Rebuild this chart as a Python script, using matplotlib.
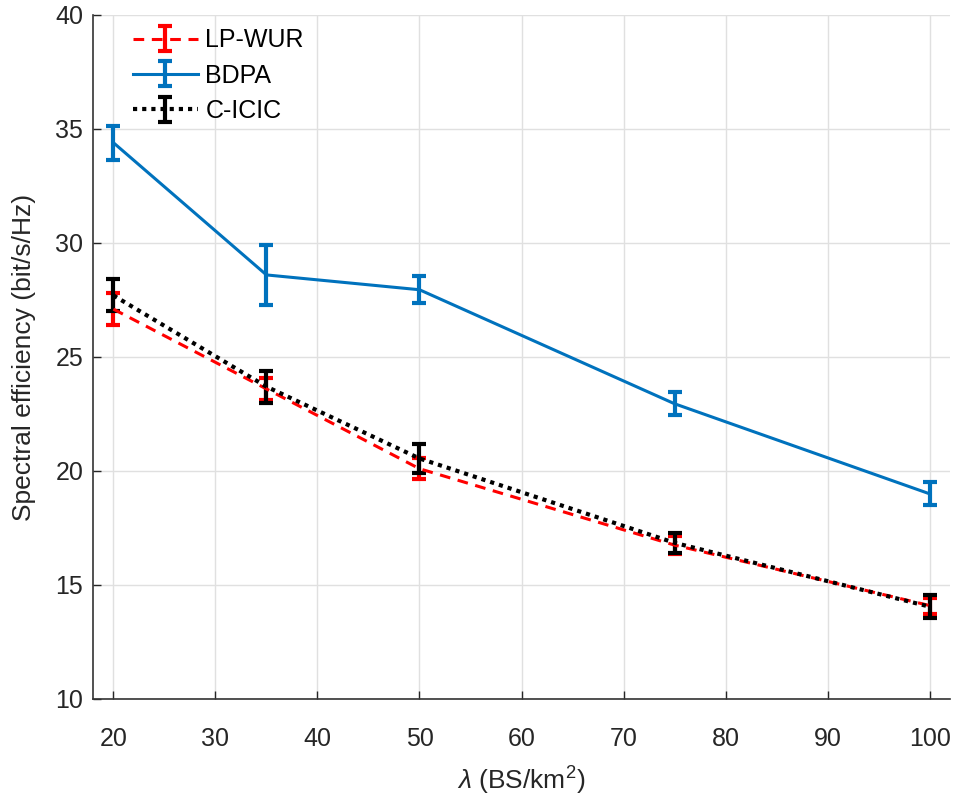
import numpy as np
import matplotlib
matplotlib.use('Agg')
import matplotlib.pyplot as plt

plt.rcParams['font.family'] = ['Liberation Sans', 'DejaVu Sans']
plt.rcParams['mathtext.fontset'] = 'custom'
plt.rcParams['mathtext.rm'] = 'Liberation Sans'
plt.rcParams['mathtext.it'] = 'Liberation Sans:italic'

# Data.
lam = [20, 35, 50, 75, 100]

lpwur = [27.1, 23.6, 20.1, 16.75, 14.1]
lpwur_err = [0.7, 0.5, 0.45, 0.4, 0.35]

bdpa = [34.4, 28.6, 27.95, 22.95, 19.0]
bdpa_err = [0.75, 1.3, 0.6, 0.5, 0.5]

cicic = [27.7, 23.7, 20.55, 16.85, 14.05]
cicic_err = [0.7, 0.7, 0.65, 0.45, 0.5]

fig = plt.figure(figsize=(9.57, 8.01), dpi=100)
ax = fig.add_axes([93/957, 1 - 699/801, (950 - 93)/957, (699 - 15)/801])

ax.errorbar(lam, lpwur, yerr=lpwur_err, color='r', ls='--', lw=2.2,
            capsize=5, capthick=3, elinewidth=3, dashes=(3.5, 2.5), label='LP-WUR')
ax.errorbar(lam, bdpa, yerr=bdpa_err, color='#0072BD', ls='-', lw=2.2,
            capsize=5, capthick=3, elinewidth=3, label='BDPA')
ax.errorbar(lam, cicic, yerr=cicic_err, color='k', ls=':', lw=3,
            capsize=5, capthick=3, elinewidth=3, dashes=(1, 1.2), label='C-ICIC')

ax.set_xlim(18, 102)
ax.set_ylim(10, 40)
ax.set_xticks(np.arange(20, 101, 10))
ax.set_yticks(np.arange(10, 41, 5))
ax.grid(True, color='#e0e0e0', lw=1)
ax.set_axisbelow(True)

for s in ['top', 'right']:
    ax.spines[s].set_visible(False)
for s in ['left', 'bottom']:
    ax.spines[s].set_color('#333333')
    ax.spines[s].set_linewidth(1.2)
ax.tick_params(direction='in', length=6, labelsize=18, colors='#262626', width=1)
ax.tick_params(axis='x', pad=20)
ax.tick_params(axis='y', pad=7)

ax.set_xlabel(r'$\mathit{\lambda}$ (BS/km$^2$)', fontsize=19, color='#262626', labelpad=10)
ax.set_ylabel('Spectral efficiency (bit/s/Hz)', fontsize=19, color='#262626', labelpad=14)

ax.legend(loc='upper left', frameon=False, fontsize=18, handlelength=2.6,
          borderaxespad=0.0, labelspacing=0.45, handletextpad=0.3,
          bbox_to_anchor=(0.035, 0.995))

fig.savefig('out.png', dpi=100)
